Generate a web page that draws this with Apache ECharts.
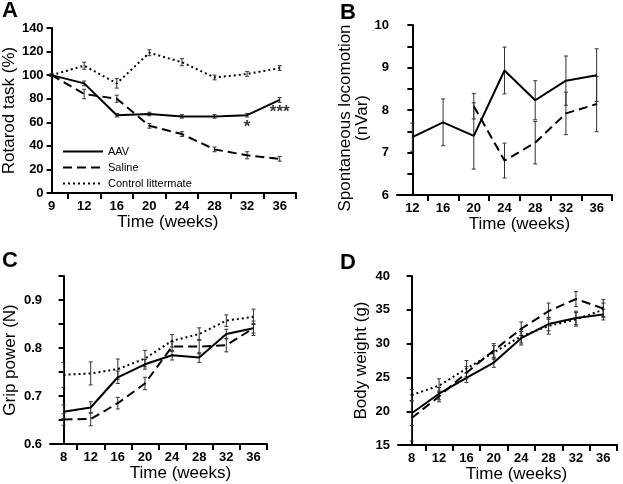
<!DOCTYPE html>
<html>
<head>
<meta charset="utf-8">
<script src="https://cdn.jsdelivr.net/npm/echarts@6/dist/echarts.min.js"></script>
<style>html,body{margin:0;padding:0;background:#fff;}#c{width:623px;height:484px;}</style>
</head>
<body>
<div id="c"></div>
<script>
// ---- Panel A: Rotarod task (%) ----
const weeksA = ['9','12','16','20','24','28','32','36'];
const rotAAV = [100, 93, 66, 67, 65, 65, 66, 79];
const rotAAVErr = [1, 2, 1.5, 1.5, 1.5, 1.5, 1.5, 2];
const rotSaline = [100, 84, 80, 57, 50, 37, 32, 29];
const rotSalineErr = [1, 4, 3, 2, 2, 2, 3, 2];
const rotCtrl = [100, 108, 93, 119, 111, 98, 101, 106];
const rotCtrlErr = [1, 3, 4, 2.5, 3, 2, 2, 2];
const rotSig = [null, null, null, null, null, null, '*', '***'];

// ---- Panel B: Spontaneous locomotion (nVar) ----
const weeksB = ['12','16','20','24','28','32','36'];
const locoAAV = [7.36, 7.71, 7.39, 8.93, 8.23, 8.69, 8.82];
const locoAAVErr = [0.33, 0.55, 0.78, 0.55, 0.46, 0.58, 0.62];
const locoSaline = [null, null, 8.09, 6.81, 7.23, 7.92, 8.14];
const locoSalineErr = [null, null, 0.3, 0.41, 0.5, 0.5, 0.65];

// ---- Panel C: Grip power (N) ----
const weeksC = ['8','12','16','20','24','28','32','36'];
const gripAAV = [0.667, 0.676, 0.739, 0.766, 0.785, 0.780, 0.829, 0.841];
const gripAAVErr = [0.014, 0.012, 0.013, 0.010, 0.010, 0.010, 0.010, 0.010];
const gripSaline = [0.651, 0.652, 0.685, 0.726, 0.803, 0.803, 0.806, 0.841];
const gripSalineErr = [0.012, 0.014, 0.012, 0.013, 0.010, 0.015, 0.014, 0.015];
const gripCtrl = [0.744, 0.747, 0.756, 0.778, 0.815, 0.829, 0.857, 0.865];
const gripCtrlErr = [0.026, 0.024, 0.021, 0.017, 0.013, 0.013, 0.012, 0.016];

// ---- Panel D: Body weight (g) ----
const weeksD = ['8','12','16','20','24','28','32','36'];
const bwAAV = [19.7, 22.6, 24.95, 27.2, 30.8, 32.9, 33.8, 34.3];
const bwAAVErr = [1.8, 0.9, 0.7, 0.7, 1.0, 1.0, 1.0, 0.8];
const bwSaline = [19.0, 22.2, 25.7, 29.0, 32.2, 34.8, 36.6, 35.2];
const bwSalineErr = [3.4, 0.8, 0.9, 1.0, 1.0, 1.2, 1.1, 1.3];
const bwCtrl = [22.4, 23.8, 26.3, 28.7, 31.1, 32.6, 33.6, 35.0];
const bwCtrlErr = [0.8, 1.0, 1.2, 1.0, 1.0, 1.2, 1.0, 1.0];

const groupNames = ['AAV', 'Saline', 'Control littermate'];

const FONT = '"Liberation Sans", Arial, Helvetica, sans-serif';
const styles = {
  'AAV': 'solid',
  'Saline': [9, 5],
  'Control littermate': [2, 3]
};

function pts(vals) {
  const out = [];
  vals.forEach((v, i) => { if (v != null) out.push([i, v]); });
  return out;
}
function errPts(vals, errs) {
  const out = [];
  vals.forEach((v, i) => { if (v != null && errs[i] != null) out.push([i, v - errs[i], v + errs[i]]); });
  return out;
}
function errRender(params, api) {
  const x = api.value(0), lo = api.value(1), hi = api.value(2);
  const p1 = api.coord([x, lo]), p2 = api.coord([x, hi]);
  const w = 2;
  const st = { stroke: '#333', lineWidth: 1 };
  return { type: 'group', children: [
    { type: 'line', shape: { x1: p1[0], y1: p1[1], x2: p2[0], y2: p2[1] }, style: st },
    { type: 'line', shape: { x1: p1[0] - w, y1: p1[1], x2: p1[0] + w, y2: p1[1] }, style: st },
    { type: 'line', shape: { x1: p2[0] - w, y1: p2[1], x2: p2[0] + w, y2: p2[1] }, style: st }
  ]};
}

const series = [];
function addGroup(idx, name, vals, errs) {
  series.push({
    name: name + ' SEM', type: 'custom', xAxisIndex: idx, yAxisIndex: idx,
    renderItem: errRender, data: errPts(vals, errs), encode: { x: 0, y: [1, 2] },
    silent: true, z: 1
  });
  series.push({
    name: name, type: 'line', xAxisIndex: idx, yAxisIndex: idx,
    data: pts(vals), symbol: 'none', showSymbol: false,
    lineStyle: { color: '#000', width: 2, type: styles[name] },
    itemStyle: { color: '#000' }, z: 3, animation: false
  });
}
addGroup(0, 'AAV', rotAAV, rotAAVErr);
addGroup(0, 'Saline', rotSaline, rotSalineErr);
addGroup(0, 'Control littermate', rotCtrl, rotCtrlErr);
addGroup(1, 'AAV', locoAAV, locoAAVErr);
addGroup(1, 'Saline', locoSaline, locoSalineErr);
addGroup(2, 'AAV', gripAAV, gripAAVErr);
addGroup(2, 'Saline', gripSaline, gripSalineErr);
addGroup(2, 'Control littermate', gripCtrl, gripCtrlErr);
addGroup(3, 'AAV', bwAAV, bwAAVErr);
addGroup(3, 'Saline', bwSaline, bwSalineErr);
addGroup(3, 'Control littermate', bwCtrl, bwCtrlErr);

// significance marks under AAV points in panel A
series.push({
  name: 'sig', type: 'scatter', xAxisIndex: 0, yAxisIndex: 0, symbolSize: 0,
  data: rotSig.map((s, i) => s ? { value: [i, rotAAV[i]], sig: s } : null).filter(d => d),
  label: { show: true, position: 'bottom', distance: 4, color: '#000',
    fontFamily: FONT, fontSize: 17, fontWeight: 'bold',
    formatter: p => p.data.sig },
  silent: true, z: 5
});

function xAxis(idx, cats, min, max, nameGap, namePad) {
  const labelVals = cats.map((c, i) => i);
  const tickVals = cats.map((c, i) => i + 0.5);
  return {
    gridIndex: idx, type: 'value', min: min, max: max,
    name: 'Time (weeks)', nameLocation: 'middle', nameGap: nameGap,
    nameTextStyle: { fontFamily: FONT, fontSize: 17, color: '#000', padding: namePad },
    axisLine: { lineStyle: { color: '#000', width: 2 } },
    axisTick: { show: true, length: 6, lineStyle: { color: '#000', width: 2 }, customValues: tickVals },
    axisLabel: { customValues: labelVals, formatter: v => cats[Math.round(v)], margin: 7,
      fontFamily: FONT, fontSize: 13, fontWeight: 'bold', color: '#000' },
    splitLine: { show: false }
  };
}
function yAxis(idx, name, min, max, interval, nameGap, fmt, pad) {
  return {
    gridIndex: idx, type: 'value', min: min, max: max, interval: interval,
    name: name, nameLocation: 'middle', nameGap: nameGap, nameRotate: 90,
    nameTextStyle: { fontFamily: FONT, fontSize: 17, color: '#000', lineHeight: 17, padding: pad },
    axisLine: { show: true, lineStyle: { color: '#000', width: 2 } },
    axisTick: { show: true, length: 5, lineStyle: { color: '#000', width: 2 } },
    axisLabel: { formatter: fmt, margin: 8,
      fontFamily: FONT, fontSize: 13, fontWeight: 'bold', color: '#000' },
    splitLine: { show: false }
  };
}

const option = {
  animation: false,
  backgroundColor: '#fff',
  textStyle: { fontFamily: FONT },
  title: [
    { text: 'A', left: 2, top: 0, padding: 0, textStyle: { fontSize: 22, fontWeight: 'bold', color: '#000', fontFamily: FONT } },
    { text: 'B', left: 340, top: 2, padding: 0, textStyle: { fontSize: 22, fontWeight: 'bold', color: '#000', fontFamily: FONT } },
    { text: 'C', left: 2, top: 250, padding: 0, textStyle: { fontSize: 22, fontWeight: 'bold', color: '#000', fontFamily: FONT } },
    { text: 'D', left: 340, top: 252, padding: 0, textStyle: { fontSize: 22, fontWeight: 'bold', color: '#000', fontFamily: FONT } }
  ],
  legend: {
    data: groupNames, orient: 'vertical', left: 62, top: 146, padding: 0,
    itemWidth: 40, itemHeight: 10, itemGap: 5,
    itemStyle: { opacity: 0 },
    textStyle: { fontFamily: FONT, fontSize: 11, color: '#000' },
    selectedMode: false
  },
  grid: [
    { left: 51, top: 28, width: 245, height: 165 },
    { left: 397, top: 25, width: 215, height: 170 },
    { left: 50, top: 276, width: 217, height: 168 },
    { left: 398, top: 276, width: 219, height: 170 }
  ],
  xAxis: [
    xAxis(0, weeksA, 0, 7.5, 20, [0, 12, 0, 0]),
    xAxis(1, weeksB, -0.5, 6.5, 13, [0, 0, 0, 30]),
    xAxis(2, weeksC, -0.5, 7.5, 20, [0, 0, 0, 44]),
    xAxis(3, weeksD, -0.5, 7.5, 15, [0, 0, 0, 18])
  ],
  yAxis: [
    yAxis(0, 'Rotarod task (%)', 0, 140, 20, 32, v => v, [0, 0, 0, 0]),
    yAxis(1, 'Spontaneous locomotion\n(nVar)', 6, 10, 0.5, 23, v => (Math.abs(v - Math.round(v)) < 1e-6 ? String(Math.round(v)) : ''), [0, 16, 0, 0]),
    yAxis(2, 'Grip power (N)', 0.6, 0.95, 0.05, 31, v => (Math.abs(v * 10 - Math.round(v * 10)) < 1e-6 ? v.toFixed(1) : ''), [0, 0, 0, 0]),
    yAxis(3, 'Body weight (g)', 15, 40, 5, 28, v => v, [0, 0, 0, 0])
  ],
  series: series
};

const chart = echarts.init(document.getElementById('c'), null, { renderer: 'canvas' });
chart.setOption(option);
</script>
</body>
</html>
